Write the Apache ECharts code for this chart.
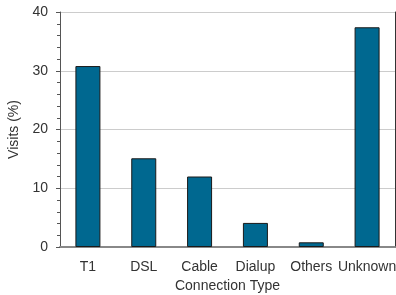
<!DOCTYPE html>
<html>
<head>
<meta charset="utf-8">
<script src="https://cdn.jsdelivr.net/npm/echarts@6/dist/echarts.min.js"></script>
<style>
html, body { margin: 0; padding: 0; background: #fff; }
#chart { width: 396px; height: 295px; }
</style>
</head>
<body>
<div id="chart"></div>
<script>
var categories = ['T1', 'DSL', 'Cable', 'Dialup', 'Others', 'Unknown'];
var visits = [30.8, 15.1, 12.0, 4.1, 0.8, 37.4];
var yTicks = [0, 10, 20, 30, 40];

var font = 'Liberation Sans, Arial, sans-serif';
var myChart = echarts.init(document.getElementById('chart'));
var option = {
    animation: false,
    grid: {left: 60, top: 12, right: 1, bottom: 48, outerBoundsMode: 'none'},
    xAxis: [
        {
            type: 'category',
            data: categories,
            name: 'Connection Type',
            nameLocation: 'middle',
            nameGap: 31,
            nameTextStyle: {color: '#333', fontSize: 14, fontFamily: font},
            axisLine: {lineStyle: {color: '#444', width: 1}},
            axisTick: {alignWithLabel: true, length: 4, lineStyle: {color: '#444'}},
            axisLabel: {color: '#333', fontSize: 14, fontFamily: font, margin: 13, interval: 0, hideOverlap: false}
        },
        {
            type: 'category',
            position: 'top',
            data: categories,
            axisLine: {lineStyle: {color: '#888', width: 2}},
            axisTick: {show: false},
            axisLabel: {show: false}
        }
    ],
    yAxis: [
        {
            type: 'value',
            min: yTicks[0],
            max: yTicks[yTicks.length - 1],
            interval: 10,
            name: 'Visits (%)',
            nameLocation: 'middle',
            nameGap: 34,
            nameTextStyle: {color: '#333', fontSize: 14, fontFamily: font},
            axisLine: {show: true, lineStyle: {color: '#555', width: 1}},
            axisTick: {show: true, length: 4, lineStyle: {color: '#555'}},
            minorTick: {show: true, splitNumber: 5, length: 3, lineStyle: {color: '#555'}},
            splitLine: {lineStyle: {color: '#ccc', width: 1}},
            axisLabel: {color: '#333', fontSize: 14, fontFamily: font, margin: 12}
        },
        {
            type: 'value',
            position: 'right',
            min: yTicks[0],
            max: yTicks[yTicks.length - 1],
            axisLine: {show: true, lineStyle: {color: '#333', width: 1}},
            axisTick: {show: false},
            axisLabel: {show: false},
            splitLine: {show: false}
        }
    ],
    series: [
        {
            name: 'Visits',
            type: 'bar',
            data: visits,
            barWidth: 25,
            itemStyle: {color: '#006890', borderColor: '#1a1a1a', borderWidth: 1}
        }
    ]
};
myChart.setOption(option);
</script>
</body>
</html>
